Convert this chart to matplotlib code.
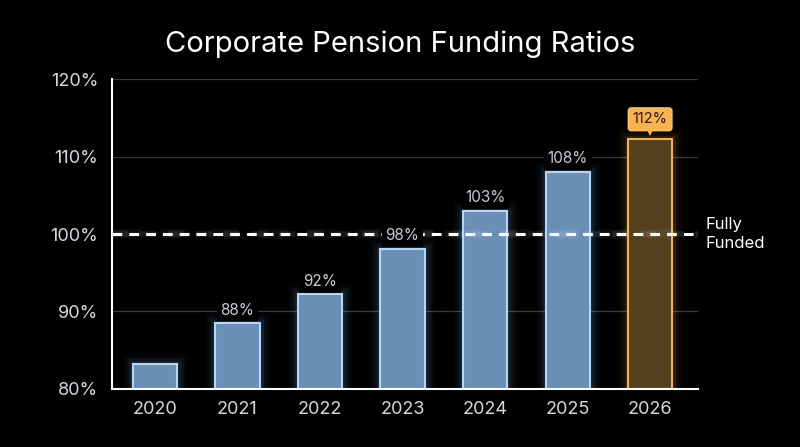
import matplotlib.pyplot as plt
import matplotlib.transforms as mtransforms
import numpy as np

# 数据
years = ['2020', '2021', '2022', '2023', '2024', '2025', '2026']
ratios = [83.2, 88.5, 92.2, 98.1, 103.0, 108.0, 112.3]
labels = ['', '88%', '92%', '98%', '103%', '108%', '112%']
y_ticks = [80, 90, 100, 110, 120]
THRESHOLD = 100

BG = '#000000'
BLUE_FILL = '#6a8fb6'
BLUE_EDGE = '#b4d6f8'
ORANGE_FILL = '#54401f'
ORANGE_EDGE = '#f7b04a'
TEXT = '#d4d8de'

plt.rcParams['font.family'] = ['Inter', 'DejaVu Sans']

fig = plt.figure(figsize=(8, 4.47), dpi=100, facecolor=BG)
ax = fig.add_axes([0.14, 0.13, 0.7325, 0.693])
ax.set_facecolor(BG)

x = np.arange(len(years))
width = 0.535
last = len(years) - 1

# 网格线
for t in [90, 110, 120]:
    ax.axhline(t, color='#3a3a3a', linewidth=0.9, zorder=0)

# 柱子的光晕
for i, v in enumerate(ratios):
    glow = ORANGE_EDGE if i == last else '#7fb4ea'
    for lw, a in [(14, 0.04), (9, 0.06), (5, 0.09)]:
        ax.bar(x[i], v - 80, width, bottom=80, facecolor='none',
               edgecolor=glow, linewidth=lw, alpha=a, zorder=1)

colors = [BLUE_FILL] * last + [ORANGE_FILL]
edges = [BLUE_EDGE] * last + [ORANGE_EDGE]
ax.bar(x, np.array(ratios) - 80, width, bottom=80, color=colors,
       edgecolor=edges, linewidth=1.5, zorder=2)

# 数值标签
for i, v in enumerate(ratios):
    if not labels[i]:
        continue
    if i == last:
        ax.annotate(labels[i], xy=(x[i], v), xytext=(0, 14),
                    textcoords='offset points', ha='center', va='center',
                    fontsize=10.5, color='#2a1a05', zorder=6,
                    bbox=dict(boxstyle='round,pad=0.3,rounding_size=0.2',
                              fc='#f8b24e', ec='#ffc46a', lw=1))
        # 标签下方的小三角
        shift = mtransforms.ScaledTranslation(0, 5 / 72, fig.dpi_scale_trans)
        ax.plot([x[i]], [v], marker='v', markersize=6, color='#f8b24e',
                markeredgewidth=0, zorder=6, transform=ax.transData + shift)
    else:
        ax.annotate(labels[i], xy=(x[i], v), xytext=(0, 4),
                    textcoords='offset points', ha='center', va='bottom',
                    fontsize=11, color='#c6ccd4', zorder=5,
                    bbox=dict(boxstyle='square,pad=0.25', fc=BG, ec='none'))

# 满额线
for lw, a in [(7, 0.05), (4, 0.1)]:
    ax.axhline(THRESHOLD, color='white', linewidth=lw, alpha=a,
               linestyle=(0, (3, 2)), zorder=3)
ax.axhline(THRESHOLD, color='white', linewidth=2.2,
           linestyle=(0, (3.2, 2.3)), zorder=4)
ax.text(1.012, THRESHOLD, 'Fully\nFunded', transform=ax.get_yaxis_transform(),
        ha='left', va='center', fontsize=12, color='white', linespacing=1.3)

ax.set_xlim(-0.52, 6.58)
ax.set_ylim(80, 120)
ax.set_xticks(x)
ax.set_xticklabels(years)
ax.set_yticks(y_ticks)
ax.set_yticklabels([f'{t}%' for t in y_ticks])
ax.tick_params(colors=TEXT, labelsize=13, length=0)
ax.tick_params(axis='y', pad=10)
ax.tick_params(axis='x', pad=9)
for lab in ax.get_xticklabels() + ax.get_yticklabels():
    lab.set_color(TEXT)

for s in ['top', 'right']:
    ax.spines[s].set_visible(False)
for s in ['left', 'bottom']:
    ax.spines[s].set_color('white')
    ax.spines[s].set_linewidth(1.5)
    ax.spines[s].set_zorder(5)

fig.text(0.5, 0.9, 'Corporate Pension Funding Ratios', ha='center',
         va='center', fontsize=21, color='white')

fig.savefig('out.png', dpi=100, facecolor=BG)
